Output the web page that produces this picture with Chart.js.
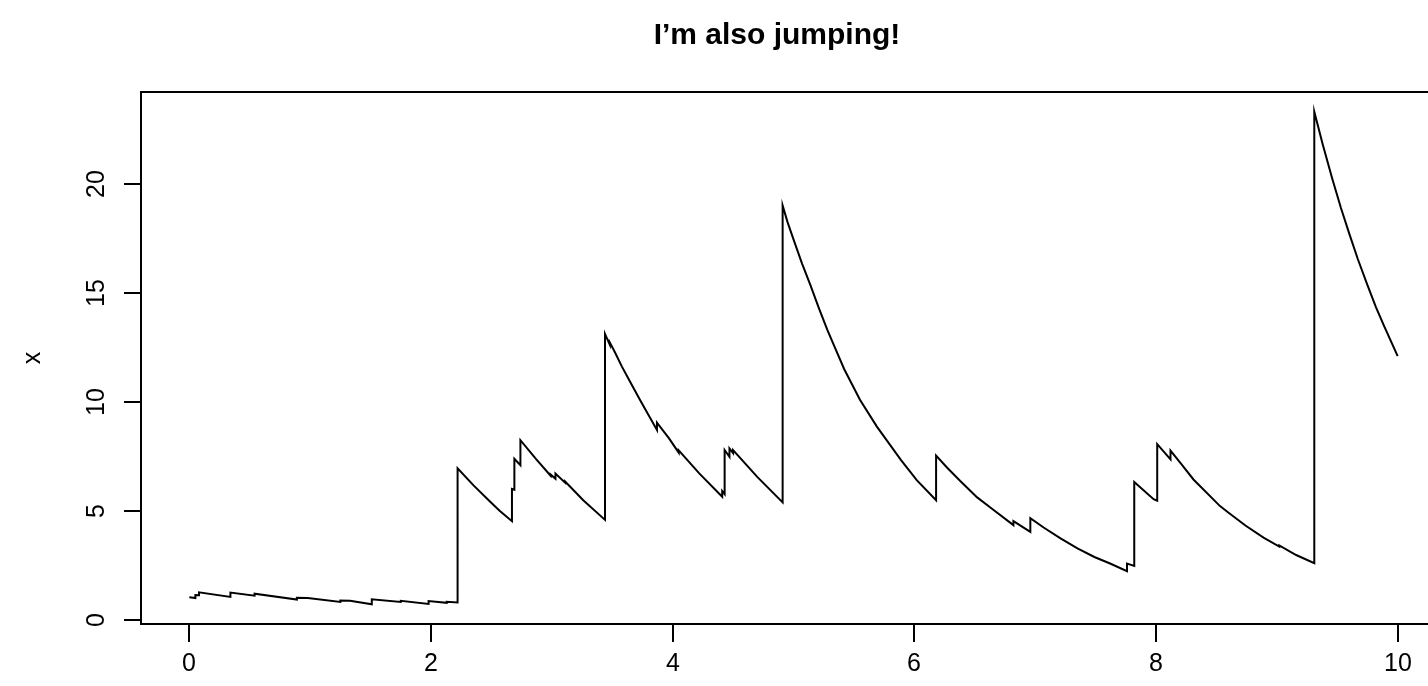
<!DOCTYPE html>
<html>
<head>
<meta charset="utf-8">
<title>I’m also jumping!</title>
<script src="https://cdn.jsdelivr.net/npm/chart.js@4.4.1/dist/chart.umd.min.js"></script>
<style>
html, body { margin: 0; padding: 0; background: #fff; overflow: hidden; }
#wrap { position: relative; width: 1554px; height: 686px; }
</style>
</head>
<body>
<div id="wrap"><canvas id="jumpChart"></canvas></div>
<script>
// jump process path: time and value, a jump is two points at the same time
var times = [
  0, 0.05, 0.05, 0.08, 0.08, 0.34, 0.34, 0.54, 0.54, 0.89, 0.89, 0.98,
  1.25, 1.25, 1.33, 1.51, 1.51, 1.75, 1.75, 1.98, 1.98, 2.13, 2.13, 2.22, 2.22,
  2.35, 2.49, 2.57, 2.67, 2.67, 2.69, 2.69, 2.74, 2.74, 2.87, 2.99, 2.99,
  3.03, 3.03, 3.11, 3.11, 3.26, 3.44, 3.44,
  3.48, 3.48, 3.52, 3.58, 3.65, 3.73, 3.80, 3.87, 3.87, 3.97, 4.05, 4.05,
  4.22, 4.41, 4.41, 4.43, 4.43, 4.47, 4.47, 4.50, 4.50, 4.70, 4.91, 4.91,
  4.95, 5.00, 5.07, 5.14, 5.21, 5.28, 5.35, 5.42, 5.55, 5.69, 5.89, 6.02, 6.18, 6.18,
  6.27, 6.38, 6.52, 6.64, 6.82, 6.82, 6.96, 6.96, 7.07, 7.21, 7.35, 7.49,
  7.62, 7.76, 7.76, 7.82, 7.82, 7.98, 8.01, 8.01, 8.12, 8.12, 8.21, 8.31, 8.53,
  8.59, 8.74, 8.89, 9.02, 9.02, 9.16, 9.31, 9.31,
  9.38, 9.46, 9.53, 9.60, 9.67, 9.75, 9.82, 9.89, 10.0
];
var values = [
  1.05, 1.02, 1.16, 1.15, 1.28, 1.07, 1.27, 1.13, 1.22, 0.95, 1.03, 1.02,
  0.84, 0.91, 0.89, 0.73, 0.96, 0.84, 0.89, 0.75, 0.88, 0.80, 0.85, 0.82, 6.96,
  6.19, 5.43, 5.01, 4.54, 6.02, 5.98, 7.40, 7.10, 8.25, 7.38, 6.62, 6.68,
  6.48, 6.72, 6.30, 6.36, 5.50, 4.60, 13.12,
  12.62, 12.72, 12.30, 11.62, 10.90, 10.09, 9.40, 8.72, 9.05, 8.33, 7.68, 7.78,
  6.73, 5.66, 5.92, 5.78, 7.80, 7.49, 7.87, 7.66, 7.80, 6.57, 5.40, 19.00,
  18.25, 17.45, 16.35, 15.35, 14.30, 13.30, 12.40, 11.50, 10.10, 8.87, 7.34, 6.42, 5.50, 7.55,
  7.00, 6.38, 5.63, 5.12, 4.36, 4.54, 4.05, 4.68, 4.25, 3.75, 3.29, 2.90,
  2.60, 2.25, 2.60, 2.49, 6.34, 5.55, 5.48, 8.07, 7.37, 7.77, 7.15, 6.45, 5.23,
  4.97, 4.34, 3.79, 3.38, 3.43, 2.99, 2.62, 23.30,
  21.80, 20.20, 18.90, 17.70, 16.55, 15.35, 14.35, 13.45, 12.10
];
var xTicks = [0, 2, 4, 6, 8, 10];
var yTicks = [0, 5, 10, 15, 20];
var mainTitle = 'I’m also jumping!';
var yTitle = 'x';

var points = times.map(function(t, i) { return { x: t, y: values[i] }; });

var FONT = '"Liberation Sans", Arial, Helvetica, sans-serif';

// base-graphics style frame, ticks and labels
var rAxes = {
  id: 'rAxes',
  afterDraw: function(chart) {
    var ctx = chart.ctx, a = chart.chartArea;
    var xs = chart.scales.x, ys = chart.scales.y;
    ctx.save();
    ctx.strokeStyle = '#000';
    ctx.fillStyle = '#000';
    ctx.lineWidth = 2;
    ctx.strokeRect(a.left, a.top, a.right - a.left, a.bottom - a.top);

    ctx.font = '25px ' + FONT;
    ctx.textAlign = 'center';
    ctx.textBaseline = 'alphabetic';
    xTicks.forEach(function(v) {
      var px = Math.round(xs.getPixelForValue(v));
      ctx.beginPath();
      ctx.moveTo(px, a.bottom);
      ctx.lineTo(px, a.bottom + 18);
      ctx.stroke();
      ctx.fillText(String(v), px, 671);
    });
    yTicks.forEach(function(v) {
      var py = Math.round(ys.getPixelForValue(v));
      ctx.beginPath();
      ctx.moveTo(a.left - 17, py);
      ctx.lineTo(a.left, py);
      ctx.stroke();
      ctx.save();
      ctx.translate(104, py);
      ctx.rotate(-Math.PI / 2);
      ctx.fillText(String(v), 0, 0);
      ctx.restore();
    });

    ctx.save();
    ctx.translate(40, (a.top + a.bottom) / 2);
    ctx.rotate(-Math.PI / 2);
    ctx.fillText(yTitle, 0, 0);
    ctx.restore();

    ctx.font = 'bold 30px ' + FONT;
    ctx.fillText(mainTitle, 777, 44);
    ctx.restore();
  }
};

new Chart(document.getElementById('jumpChart'), {
  type: 'line',
  data: {
    datasets: [{
      data: points,
      borderColor: '#000',
      borderWidth: 2,
      pointRadius: 0,
      tension: 0,
      fill: false
    }]
  },
  options: {
    responsive: true,
    maintainAspectRatio: false,
    animation: false,
    layout: { padding: { left: 141, right: 108, top: 92, bottom: 62 } },
    plugins: {
      legend: { display: false },
      tooltip: { enabled: false },
      title: { display: false }
    },
    scales: {
      x: { type: 'linear', min: -0.4, max: 10.4, display: false },
      y: { type: 'linear', min: -0.17, max: 24.2, display: false }
    }
  },
  plugins: [rAxes]
});
</script>
</body>
</html>
